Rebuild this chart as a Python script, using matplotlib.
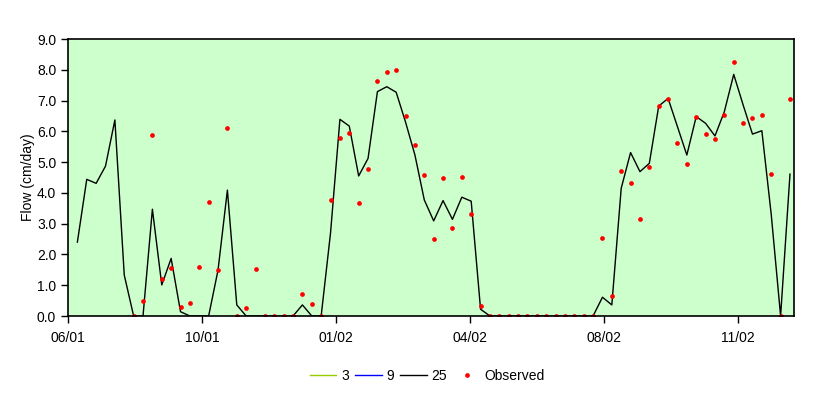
import matplotlib
matplotlib.use("Agg")
import matplotlib.pyplot as plt
import matplotlib.dates as mdates
from matplotlib.lines import Line2D
import numpy as np
import pandas as pd

plt.rcParams['font.family'] = ['Liberation Sans', 'DejaVu Sans']

# weekly values, first one on 07/07/01
dates = pd.date_range('2001-07-07', periods=77, freq='7D')

flow_25 = [2.40, 4.44, 4.31, 4.87, 6.37, 1.33, 0.0, 0.0, 3.47, 1.01,
           1.87, 0.14, 0.0, 0.0, 0.0, 1.49, 4.09, 0.36, 0.0, 0.0,
           0.0, 0.0, 0.0, 0.0, 0.36, 0.0, 0.0, 2.70, 6.39, 6.17,
           4.55, 5.12, 7.29, 7.45, 7.27, 6.30, 5.23, 3.77, 3.09, 3.75,
           3.14, 3.86, 3.73, 0.22, 0.0, 0.0, 0.0, 0.0, 0.0, 0.0,
           0.0, 0.0, 0.0, 0.0, 0.0, 0.0, 0.61, 0.36, 4.15, 5.31,
           4.69, 4.96, 6.82, 7.07, 6.15, 5.23, 6.48, 6.26, 5.85, 6.64,
           7.85, 6.86, 5.91, 6.02, 3.30, 0.0, 4.61]

observed = [np.nan, np.nan, np.nan, np.nan, np.nan, np.nan, 0.0, 0.50, 5.88, 1.21,
            1.57, 0.30, 0.43, 1.60, 3.70, 1.51, 6.11, 0.0, 0.27, 1.54,
            0.0, 0.0, 0.0, 0.0, 0.73, 0.40, 0.0, 3.78, 5.79, 5.96,
            3.68, 4.79, 7.65, 7.94, 8.00, 6.51, 5.57, 4.59, 2.51, 4.49,
            2.87, 4.53, 3.32, 0.34, 0.0, 0.0, 0.0, 0.0, 0.0, 0.0,
            0.0, 0.0, 0.0, 0.0, 0.0, 0.0, 2.54, 0.66, 4.72, 4.33,
            3.16, 4.85, 6.83, 7.06, 5.63, 4.95, 6.48, 5.92, 5.76, 6.54,
            8.26, 6.28, 6.44, 6.54, 4.62, 0.0, 7.06]

series_names = ['3', '9', '25']
series_colors = ['#99cc00', '#0000ff', '#000000']

fig = plt.figure(figsize=(8.3, 3.97), dpi=100)
ax = fig.add_axes([68 / 830, 1 - 316 / 397, 726 / 830, 277 / 397])
ax.set_facecolor('#ccffcc')

ax.plot(dates, flow_25, color='black', lw=1.0)
ax.plot(dates, observed, 'o', color='#ff0000', ms=3.4, mew=0, ls='none')

x_start = pd.Timestamp('2001-06-30')
ax.set_xlim(x_start, x_start + pd.Timedelta(days=542))
ax.set_ylim(0, 9)
ax.set_xticks(pd.date_range(x_start, periods=6, freq='100D'))
ax.xaxis.set_major_formatter(mdates.DateFormatter('%m/%y'))
ax.set_yticks(np.arange(0, 10, 1))
ax.yaxis.set_major_formatter(plt.FormatStrFormatter('%.1f'))
ax.tick_params(direction='out', length=5, width=1, labelsize=10, colors='black')
ax.tick_params(axis='x', pad=6)
for sp in ax.spines.values():
    sp.set_linewidth(1.2)
    sp.set_color('black')

ax.set_ylabel('Flow (cm/day)', fontsize=10, labelpad=1)

# series 3 and 9 lie under series 25, so only their legend keys show
handles = [Line2D([], [], color=c, lw=1.0) for c in series_colors]
handles.append(Line2D([], [], marker='o', color='#ff0000', ms=3.4, mew=0, ls='none'))
fig.legend(handles, series_names + ['Observed'], loc='center',
           bbox_to_anchor=(0.515, 1 - 376 / 397), ncol=4, frameon=False,
           fontsize=10, handlelength=1.9, handletextpad=0.35, columnspacing=0.45)

fig.savefig('out.png', dpi=100)
